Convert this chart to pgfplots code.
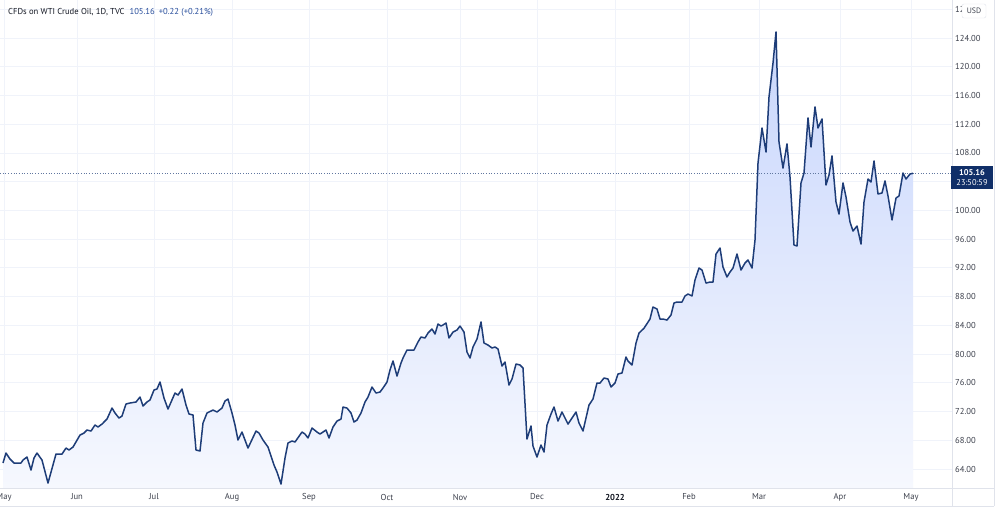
\documentclass[border=0pt]{standalone}
\usepackage{fontspec}
\setmainfont{PT Sans}
\usepackage{pgfplots}
\usepackage{pgfplotstable}
\pgfplotsset{compat=1.18}
\definecolor{serline}{RGB}{30,61,120}
\definecolor{gridc}{RGB}{240,243,250}
\definecolor{framec}{RGB}{224,227,235}
\definecolor{txt}{RGB}{19,23,34}
\definecolor{ticktxt}{RGB}{60,64,76}
\definecolor{boxc}{RGB}{16,47,104}
\definecolor{blu}{RGB}{40,78,156}
\definecolor{filltop}{RGB}{200,214,252}
\definecolor{fillbot}{RGB}{246,248,254}

\pgfplotstableread{
x y
3 64.84
6 66.23
10 65.39
14 64.84
21 64.84
23 65.25
27 65.67
31 63.86
34 65.53
37 66.23
42 65.25
48 62.05
56 66.09
62 66.09
66 66.92
69 66.65
73 67.06
80 68.73
84 69.01
87 69.43
91 69.29
95 70.13
98 69.85
102 70.26
107 70.96
112 72.49
115 71.80
119 71.10
122 71.38
126 73.05
130 73.19
136 73.33
140 74.02
143 72.77
147 73.33
150 73.61
154 75.00
157 75.14
160 76.11
164 73.88
168 72.35
175 74.58
178 74.30
182 75.14
186 72.91
189 71.66
193 71.52
196 66.65
200 66.51
203 70.40
207 71.80
213 72.21
217 71.94
222 72.49
225 73.47
228 73.75
232 71.80
235 70.13
238 68.04
242 69.15
248 66.92
256 69.29
259 69.01
263 68.04
268 67.06
274 64.56
277 63.58
281 61.91
285 65.53
288 67.62
292 67.90
295 67.76
302 69.15
305 68.87
308 68.32
312 69.71
317 69.15
320 68.87
326 69.43
329 68.32
333 69.85
337 70.68
341 70.96
343 72.63
347 72.49
351 71.80
354 70.54
357 70.82
361 71.80
365 73.33
368 74.02
372 75.42
376 74.58
380 74.72
383 75.28
387 76.11
390 77.78
393 79.04
397 76.95
401 78.76
403 79.45
407 80.57
414 80.57
418 81.68
421 82.38
425 82.24
428 82.93
432 83.49
435 82.79
438 84.19
441 83.91
443 84.05
446 84.33
449 82.24
453 83.07
457 83.35
460 83.91
464 83.07
467 80.29
470 79.45
473 80.99
477 82.10
481 84.47
484 81.54
488 81.26
492 80.85
495 80.99
498 80.71
502 78.34
505 78.90
509 75.69
512 76.53
516 78.62
520 78.48
523 78.06
527 68.18
531 69.99
533 67.20
537 65.67
541 67.34
544 66.37
547 70.13
551 71.66
554 72.63
558 70.68
562 71.94
568 70.26
576 71.94
579 70.40
583 69.29
589 72.91
593 73.75
597 75.97
600 75.97
604 76.67
608 76.53
611 75.42
615 75.97
618 77.23
622 77.37
626 79.59
628 79.04
632 78.48
636 81.54
639 82.93
644 83.60
650 84.88
653 86.55
657 86.28
660 84.88
663 84.88
667 84.74
671 85.44
674 87.11
677 87.25
682 87.25
685 88.09
688 88.36
692 88.09
695 90.31
699 91.98
702 91.70
706 89.89
710 90.03
713 90.03
716 93.93
720 94.77
723 92.12
727 90.73
730 91.43
733 91.98
737 93.93
741 91.70
745 92.68
748 93.10
752 91.98
755 95.88
758 106.60
762 111.47
766 108.13
769 115.79
773 120.52
776 124.84
779 109.52
783 105.90
787 109.25
790 104.65
794 95.19
797 95.05
801 103.82
804 105.21
808 112.87
811 108.83
815 114.40
818 111.47
822 112.73
826 103.54
829 104.93
832 107.58
836 101.17
839 99.50
843 103.82
846 101.87
850 98.39
853 97.13
857 97.83
861 95.32
864 101.17
868 104.37
871 103.96
874 106.88
878 102.29
882 102.42
885 104.10
888 102.01
892 98.67
896 101.73
899 102.01
903 105.21
906 104.37
910 105.07
913 105.16
}\wti

\begin{document}
\begin{tikzpicture}[x=1pt,y=1pt]
\useasboundingbox (0,0) rectangle (1000,509);
\fill[white] (0,0) rectangle (1000,509);
\begin{axis}[
  at={(0pt,21pt)}, anchor=south west,
  scale only axis, width=952pt, height=488pt,
  xmin=0, xmax=952, ymin=61.36, ymax=129.29,
  axis line style={draw=none},
  major tick length=0pt,
  xtick={4,77,154,232,309,387,460,537,615,689,759,840,911},
  xticklabels={May,Jun,Jul,Aug,Sep,Oct,Nov,Dec,\textbf{\color{txt}2022},Feb,Mar,Apr,May},
  ytick={64,68,...,128},
  yticklabel pos=right,
  grid=major,
  major grid style={draw=gridc, line width=0.8pt},
  /pgf/number format/assume math mode=true,
  yticklabel={\pgfmathprintnumber[fixed,fixed zerofill,precision=2]{\tick}},
  yticklabel style={anchor=west, inner sep=0pt, xshift=3pt, font=\fontsize{8.6}{10}\selectfont, text=ticktxt},
  xticklabel style={anchor=center, inner sep=0pt, yshift=-9pt, font=\fontsize{8.6}{10}\selectfont, text=ticktxt},
  clip=true,
]
\addplot[draw=none, top color=filltop, bottom color=fillbot] table[x=x,y=y] {\wti} -- (axis cs:913,61.36) -- (axis cs:3,61.36) -- cycle;
\draw[dotted, line width=0.7pt, color=serline!70] (axis cs:0,105.16) -- (axis cs:952,105.16);
\addplot[serline, line width=1.5pt, line join=round, mark=none] table[x=x,y=y] {\wti};
\end{axis}
% frame
\draw[framec, line width=0.8pt] (0,21) -- (994,21);
\draw[framec, line width=0.8pt] (952,3) -- (952,509);
\draw[framec, line width=0.8pt] (0,3) -- (994,3);
\draw[framec, line width=0.8pt] (994,3) -- (994,509);
% price label
\fill[boxc] (951,320) rectangle (993,343);
\node[text=white, inner sep=0pt, font=\fontsize{8.4}{10}\selectfont\bfseries] at (972,336.3) {105.16};
\node[text=white, inner sep=0pt, font=\fontsize{8.4}{10}\selectfont] at (972,326.0) {23:50:59};
% USD box
\draw[framec, fill=white, rounded corners=2pt] (962,491) rectangle (986,505);
\node[text=ticktxt, inner sep=0pt, font=\fontsize{7.8}{9}\selectfont] at (974,498) {USD};
% title
\node[anchor=west, inner sep=0pt, font=\fontsize{8.6}{10}\selectfont, text=txt] at (8,497)
  {CFDs on WTI Crude Oil, 1D, TVC\hspace{5pt}\textcolor{blu}{105.16\hspace{4pt}+0.22 (+0.21\%)}};
\end{tikzpicture}
\end{document}
